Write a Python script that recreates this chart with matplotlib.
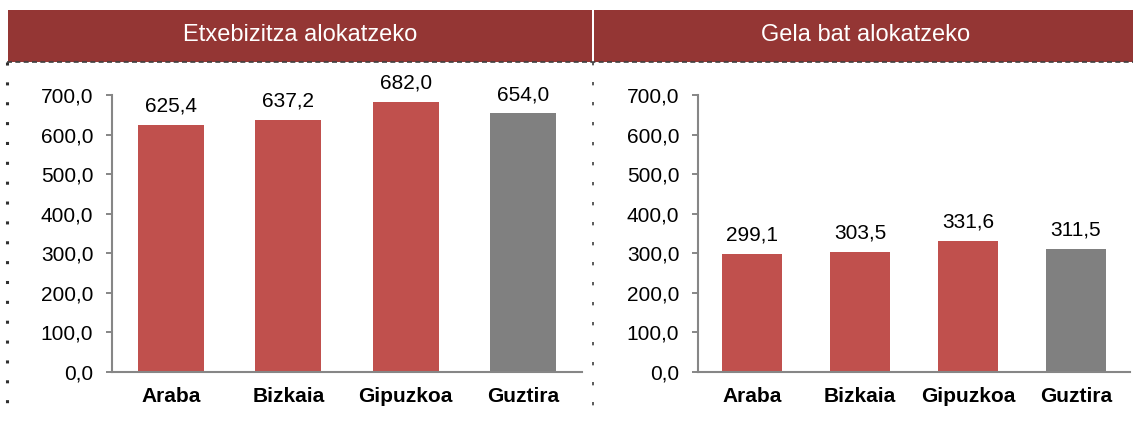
import numpy as np
import matplotlib.pyplot as plt
from matplotlib.patches import Rectangle
from matplotlib.lines import Line2D

plt.rcParams['font.family'] = ['Liberation Sans', 'DejaVu Sans']

categories = ["Araba", "Bizkaia", "Gipuzkoa", "Guztira"]
titles = ["Etxebizitza alokatzeko", "Gela bat alokatzeko"]
etxebizitza = [625.4, 637.2, 682.0, 654.0]
gela = [299.1, 303.5, 331.6, 311.5]
yticks = [0, 100, 200, 300, 400, 500, 600, 700]

red = "#C0504D"
grey = "#808080"
header = "#943634"
axis_col = "#868686"

W, H = 1133, 430
fig = plt.figure(figsize=(W / 100, H / 100), dpi=100)


def fx(px):
    return px / W


def fy(py):
    return 1 - py / H


# header bands
fig.add_artist(Rectangle((fx(8), fy(62)), fx(592) - fx(8), fy(10) - fy(62),
                         transform=fig.transFigure, color=header, lw=0))
fig.add_artist(Rectangle((fx(594), fy(62)), fx(1133) - fx(594), fy(10) - fy(62),
                         transform=fig.transFigure, color=header, lw=0))
fig.text(fx(300), fy(35), titles[0], color="white", fontsize=17, ha="center", va="center")
fig.text(fx(866), fy(35), titles[1], color="white", fontsize=17, ha="center", va="center")

# dotted frame lines
fig.add_artist(Line2D([fx(7), fx(1133)], [fy(62), fy(62)], transform=fig.transFigure,
                      color="#404040", lw=1.2, ls=(0, (3, 2))))
fig.add_artist(Line2D([fx(7), fx(7)], [fy(62), fy(415)], transform=fig.transFigure,
                      color="#303030", lw=2.2, ls=(0, (1, 5.5))))
fig.add_artist(Line2D([fx(593), fx(593)], [fy(62), fy(415)], transform=fig.transFigure,
                      color="#404040", lw=1.2, ls=(0, (2, 10))))


def panel(left, right, values):
    ax = fig.add_axes([fx(left), fy(372), fx(right) - fx(left), fy(95) - fy(372)])
    x = np.arange(len(categories))
    colors = [red] * (len(categories) - 1) + [grey]
    bars = ax.bar(x, values, width=0.56, color=colors)
    for b, v in zip(bars, values):
        ax.annotate(f"{v:.1f}".replace(".", ","), (b.get_x() + b.get_width() / 2, v),
                    xytext=(0, 9.5), textcoords="offset points",
                    ha="center", va="baseline", fontsize=15)
    ax.set_xlim(-0.5, len(categories) - 0.5)
    ax.set_ylim(0, 700)
    ax.set_yticks(yticks)
    ax.set_yticklabels([f"{t:.1f}".replace(".", ",") for t in yticks], fontsize=15)
    ax.set_xticks(x)
    ax.set_xticklabels(categories, fontsize=15, fontweight="bold")
    ax.tick_params(axis="x", length=0, pad=11)
    ax.tick_params(axis="y", length=4.5, width=1.4, color=axis_col, pad=9)
    for s in ["top", "right"]:
        ax.spines[s].set_visible(False)
    for s in ["left", "bottom"]:
        ax.spines[s].set_color(axis_col)
        ax.spines[s].set_linewidth(1.5)
    return ax


panel(112, 582, etxebizitza)
panel(698, 1130, gela)

fig.savefig("out.png", dpi=100)
